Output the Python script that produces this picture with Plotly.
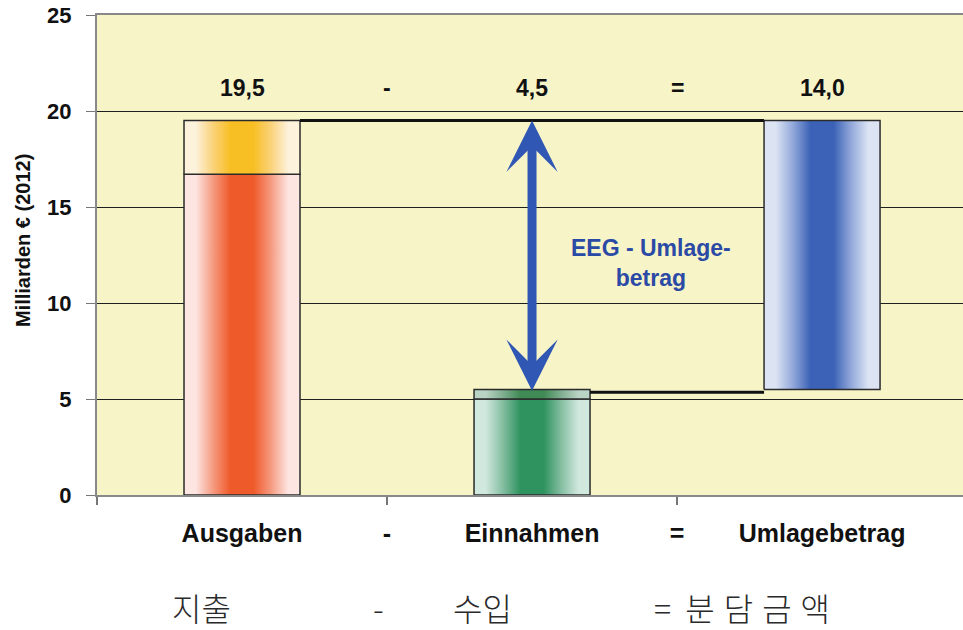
import plotly.graph_objects as go

# --- data -------------------------------------------------------------
categories = ["Ausgaben", "Einnahmen", "Umlagebetrag"]
ausgaben_parts = [16.7, 2.8]      # Vergütung + Reserve (Mrd. €)
einnahmen_parts = [5.0, 0.5]
umlage_base = 5.5
umlage_value = 14.0

header_texts = ["19,5", "-", "4,5", "=", "14,0"]
axis_texts = ["Ausgaben", "-", "Einnahmen", "=", "Umlagebetrag"]
label_slots = [0, 0.5, 1, 1.5, 2]
korean_texts = ["지출", "-", "수입", "= 분담금액"]
korean_slots = [-0.14, 0.47, 0.83, 1.74]
connector_levels = [19.5, 5.35]
y_ticks = [0, 5, 10, 15, 20, 25]

# --- style ------------------------------------------------------------
FONT = "Liberation Sans, Arial, sans-serif"
BAR_W = 0.4


def band(edge, mid, center):
    return [[0, edge], [0.1, edge], [0.25, mid], [0.4, center],
            [0.6, center], [0.75, mid], [0.9, edge], [1, edge]]


RED = band("#fde6e2", "#f59a80", "#ef5a2a")
YELLOW = band("#fdf2dc", "#fad27a", "#f8bf25")
GREEN = band("#d0e8de", "#84bda0", "#2e935f")
GREEN_TOP = band("#b9d3c4", "#7fae90", "#3f8a55")
BLUE = band("#dce4f4", "#92a8da", "#3b62b6")

fig = go.Figure()


def segment(idx, y0, y1, scale):
    x0, x1 = idx - BAR_W / 2, idx + BAR_W / 2
    fig.add_trace(go.Scatter(
        x=[x0, x1, x1, x0, x0], y=[y0, y0, y1, y1, y0],
        mode="lines", fill="toself",
        fillgradient=dict(type="horizontal", colorscale=scale),
        line=dict(color="#2b2b2b", width=1.5),
        hoverinfo="skip", showlegend=False))


# Ausgaben: two stacked pieces
segment(0, 0, ausgaben_parts[0], RED)
segment(0, ausgaben_parts[0], sum(ausgaben_parts), YELLOW)
# Einnahmen
segment(1, 0, einnahmen_parts[0], GREEN)
segment(1, einnahmen_parts[0], sum(einnahmen_parts), GREEN_TOP)
# Umlagebetrag floats on top of the income
segment(2, umlage_base, umlage_base + umlage_value, BLUE)

# connector lines between the bars
fig.add_trace(go.Scatter(
    x=[0 + BAR_W / 2, 2 - BAR_W / 2], y=[connector_levels[0]] * 2,
    mode="lines", line=dict(color="#111", width=3),
    hoverinfo="skip", showlegend=False))
fig.add_trace(go.Scatter(
    x=[1 + BAR_W / 2, 2 - BAR_W / 2], y=[connector_levels[1]] * 2,
    mode="lines", line=dict(color="#111", width=3),
    hoverinfo="skip", showlegend=False))

annotations = []

# double arrow spanning the levy amount
annotations.append(dict(
    x=1, y=connector_levels[0], ax=1, ay=connector_levels[1],
    xref="x", yref="y", axref="x", ayref="y", text="",
    showarrow=True, arrowside="end+start", arrowhead=3, startarrowhead=3,
    arrowwidth=9, arrowsize=0.95, startarrowsize=0.95, arrowcolor="#2f57b3",
    standoff=0, startstandoff=0))

annotations.append(dict(
    x=1.41, y=12.1, xref="x", yref="y", showarrow=False,
    text="EEG - Umlage-<br>betrag", align="center",
    font=dict(family=FONT, size=23, color="#2b4aa6", weight="bold")))

# values above the columns
for txt, pos in zip(header_texts, label_slots):
    annotations.append(dict(
        x=pos, y=21.2, xref="x", yref="y", showarrow=False, text=txt,
        font=dict(family=FONT, size=23, color="#111", weight="bold")))

# Korean caption line
for txt, pos in zip(korean_texts, korean_slots):
    if len(txt) > 3:
        eq, word = txt.split(" ", 1)
        txt = (eq + "\u00a0\u00a0<span style='letter-spacing:9px'>"
               + word + "</span>")
    annotations.append(dict(
        x=pos, y=-0.285, xref="x", yref="paper", showarrow=False, text=txt,
        font=dict(family="Noto Sans CJK KR", size=32, color="#2a2a2a",
                  weight=300)))

# y-axis title
annotations.append(dict(
    x=-0.0855, y=0.531, xref="paper", yref="paper", showarrow=False,
    xanchor="center", yanchor="middle",
    text="Milliarden € (2012)", textangle=-90,
    font=dict(family=FONT, size=20, color="#111", weight="bold")))

fig.update_layout(
    width=963, height=630,
    margin=dict(l=97, r=0, t=15, b=135),
    paper_bgcolor="white", plot_bgcolor="#f7f4c8",
    annotations=annotations,
    xaxis=dict(
        range=[-0.5, 2.486], showgrid=False, zeroline=False,
        tickvals=label_slots, ticktext=axis_texts, ticks="",
        ticklabelstandoff=15,
        tickfont=dict(family=FONT, size=25, color="#111", weight="bold"),
        minor=dict(tickvals=[-0.5, 0.5, 1.5, 2.5], ticks="outside",
                   ticklen=8, tickcolor="#777", tickwidth=1.5),
        showline=True, linecolor="#888", linewidth=2, mirror=True),
    yaxis=dict(
        range=[0, 25], tickvals=y_ticks, ticks="outside", ticklen=9,
        tickcolor="#777", tickwidth=1, ticklabelstandoff=10,
        tickfont=dict(family=FONT, size=22, color="#111", weight="bold"),
        showgrid=True, gridcolor="#1e1e1e", gridwidth=1, zeroline=False,
        showline=True, linecolor="#888", linewidth=2),
)

fig.write_html("out.html")
